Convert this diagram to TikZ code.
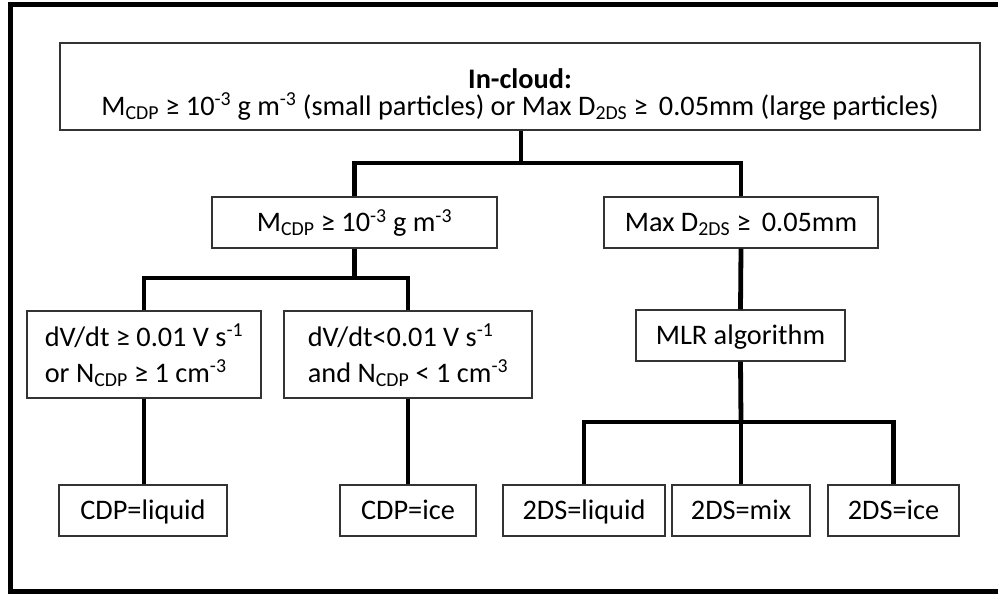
\documentclass[tikz,border=0pt]{standalone}
\usepackage{fontspec}
\setmainfont{Carlito}
\begin{document}
\begin{tikzpicture}[x=1pt,y=1pt,
  box/.style={draw=black!80,line width=1.2pt,inner sep=0pt,align=center,
    font=\fontsize{28.3}{36}\selectfont},
  one/.style={text height=25pt,text depth=7pt},
  two/.style={text height=62pt,text depth=7pt,align=left},
  conn/.style={line width=4.8pt,black}]
\useasboundingbox (0,0) rectangle (998,-594);
\draw[line width=5pt] (998,-4.5) -- (10.5,-4.5) -- (10.5,-591.5) -- (998,-591.5);
% boxes
\node[box,minimum width=920,minimum height=87,text height=64pt,text depth=7pt,
  font=\fontsize{28.3}{27}\selectfont] (top) at (520,-86.5)
  {\textbf{In-cloud:}\\M\textsubscript{CDP} ≥ 10\textsuperscript{-3} g m\textsuperscript{-3} (small particles) or Max D\textsubscript{2DS} ≥\, 0.05mm (large particles)};
\node[box,one,minimum width=285,minimum height=51] (mcdp) at (354.5,-222.5)
  {M\textsubscript{CDP} ≥ 10\textsuperscript{-3} g m\textsuperscript{-3}};
\node[box,one,minimum width=274,minimum height=51] (maxd) at (741,-222.5)
  {Max D\textsubscript{2DS} ≥\, 0.05mm};
\node[box,two,minimum width=234,minimum height=87] (dv1) at (144,-354.5)
  {dV/dt ≥ 0.01 V s\textsuperscript{-1}\\or N\textsubscript{CDP} ≥ 1 cm\textsuperscript{-3}};
\node[box,two,minimum width=248,minimum height=87] (dv2) at (408,-354.5)
  {dV/dt<0.01 V s\textsuperscript{-1}\\and N\textsubscript{CDP} < 1 cm\textsuperscript{-3}};
\node[box,one,minimum width=209,minimum height=51] (mlr) at (740.5,-335.5) {MLR algorithm};
\node[box,one,minimum width=168,minimum height=51] (cdpl) at (143,-510.5) {CDP=liquid};
\node[box,one,minimum width=136,minimum height=51] (cdpi) at (408,-510.5) {CDP=ice};
\node[box,one,minimum width=162,minimum height=51] (dsl) at (584,-510.5) {2DS=liquid};
\node[box,one,minimum width=138,minimum height=51] (dsm) at (741,-510.5) {2DS=mix};
\node[box,one,minimum width=131,minimum height=51] (dsi) at (893.5,-510.5) {2DS=ice};
% junctions
\coordinate (j1) at (521,-163);
\coordinate (j2) at (354.5,-278);
\coordinate (j3) at (741,-422);
% connectors
\draw[conn] (top.south -| j1) -- (j1);
\draw[conn] (mcdp.north) |- (j1) -| (maxd.north);
\draw[conn] (mcdp.south) -- (j2);
\draw[conn] (dv1.north) |- (j2) -| (dv2.north);
\draw[conn] (maxd.south) -- (mlr.north);
\draw[conn] (dv1.south) -- (cdpl.north -| dv1.south);
\draw[conn] (dv2.south) -- (cdpi.north);
\draw[conn] (mlr.south) -- (j3);
\draw[conn] (dsl.north) |- (j3) -| (dsi.north);
\draw[conn] (j3) -- (dsm.north);
\end{tikzpicture}
\end{document}
